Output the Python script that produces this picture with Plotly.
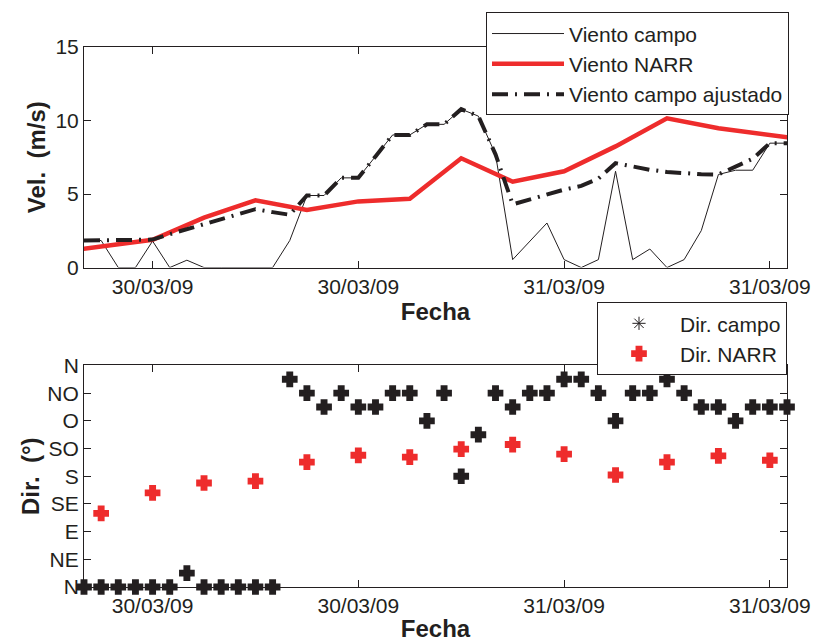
import plotly.graph_objects as go

# ---------------- data ----------------
hours_field = [
    "2009-03-30 02:00", "2009-03-30 03:00", "2009-03-30 04:00", "2009-03-30 05:00",
    "2009-03-30 06:00", "2009-03-30 07:00", "2009-03-30 08:00", "2009-03-30 09:00",
    "2009-03-30 10:00", "2009-03-30 11:00", "2009-03-30 12:00", "2009-03-30 13:00",
    "2009-03-30 14:00", "2009-03-30 15:00", "2009-03-30 16:00", "2009-03-30 17:00",
    "2009-03-30 18:00", "2009-03-30 19:00", "2009-03-30 20:00", "2009-03-30 21:00",
    "2009-03-30 22:00", "2009-03-30 23:00", "2009-03-31 00:00", "2009-03-31 01:00",
    "2009-03-31 02:00", "2009-03-31 03:00", "2009-03-31 04:00", "2009-03-31 05:00",
    "2009-03-31 06:00", "2009-03-31 07:00", "2009-03-31 08:00", "2009-03-31 09:00",
    "2009-03-31 10:00", "2009-03-31 11:00", "2009-03-31 12:00", "2009-03-31 13:00",
    "2009-03-31 14:00", "2009-03-31 15:00", "2009-03-31 16:00", "2009-03-31 17:00",
    "2009-03-31 18:00", "2009-03-31 19:00",
]
vel_campo = [
    1.84, 1.84, 0.0, 0.0, 1.80, 0.0, 0.50, 0.0, 0.0, 0.0, 0.0, 0.0,
    1.84, 4.90, 4.90, 6.10, 6.10, 7.56, 9.02, 9.02, 9.74, 9.74, 10.77, 10.30,
    7.70, 0.54, 1.80, 3.03, 0.54, 0.0, 0.54, 6.55, 0.54, 1.26, 0.0, 0.54,
    2.51, 6.33, 6.62, 6.62, 8.46, 8.46,
]
vel_ajustado = [
    1.84, 1.84, 1.84, 1.84, 1.90, 2.27, 2.62, 2.97, 3.32, 3.66, 3.97, 3.77,
    3.59, 4.90, 4.90, 6.10, 6.10, 7.56, 9.02, 9.02, 9.74, 9.74, 10.77, 10.30,
    7.70, 4.30, 4.65, 4.98, 5.30, 5.55, 6.05, 7.10, 6.85, 6.65, 6.50, 6.40,
    6.35, 6.33, 6.85, 7.40, 8.46, 8.46,
]
dir_campo = [
    0, 0, 0, 0, 0, 0, 22.5, 0, 0, 0, 0, 0,
    337.5, 315, 292.5, 315, 292.5, 292.5, 315, 315, 270, 315, 180, 247.5,
    315, 292.5, 315, 315, 337.5, 337.5, 315, 270, 315, 315, 337.5, 315,
    292.5, 292.5, 270, 292.5, 292.5, 292.5,
]

hours_narr_vel = [
    "2009-03-30 00:00", "2009-03-30 03:00", "2009-03-30 06:00", "2009-03-30 09:00",
    "2009-03-30 12:00", "2009-03-30 15:00", "2009-03-30 18:00", "2009-03-30 21:00",
    "2009-03-31 00:00", "2009-03-31 03:00", "2009-03-31 06:00", "2009-03-31 09:00",
    "2009-03-31 12:00", "2009-03-31 15:00", "2009-03-31 18:00", "2009-03-31 21:00",
]
vel_narr = [0.97, 1.43, 1.89, 3.40, 4.58, 3.92, 4.50, 4.68,
            7.43, 5.84, 6.55, 8.24, 10.15, 9.47, 8.98, 8.56]

hours_narr_dir = [
    "2009-03-30 03:00", "2009-03-30 06:00", "2009-03-30 09:00", "2009-03-30 12:00",
    "2009-03-30 15:00", "2009-03-30 18:00", "2009-03-30 21:00", "2009-03-31 00:00",
    "2009-03-31 03:00", "2009-03-31 06:00", "2009-03-31 09:00", "2009-03-31 12:00",
    "2009-03-31 15:00", "2009-03-31 18:00",
]
dir_narr = [119.6, 153, 169, 172, 203, 214, 211, 224, 231.5, 216, 182, 203, 213, 206]

x_range = ["2009-03-30 02:00", "2009-03-31 19:00"]
tick_times = ["2009-03-30 06:00", "2009-03-30 18:00", "2009-03-31 06:00", "2009-03-31 18:00"]
tick_labels = ["30/03/09", "30/03/09", "31/03/09", "31/03/09"]
vel_ticks = [0, 5, 10, 15]
dir_ticks = [0, 45, 90, 135, 180, 225, 270, 315, 360]
dir_labels = ["N", "NE", "E", "SE", "S", "SO", "O", "NO", "N"]

# ---------------- style ----------------
BLK = "#231f20"
RED = "#ee2c2c"
FONT = "Liberation Sans, Arial, sans-serif"

fig = go.Figure()

fig.add_trace(go.Scatter(x=hours_field, y=vel_campo, mode="lines", name="Viento campo",
                         line=dict(color=BLK, width=1), legend="legend",
                         xaxis="x", yaxis="y"))
fig.add_trace(go.Scatter(x=hours_narr_vel, y=vel_narr, mode="lines", name="Viento NARR",
                         line=dict(color=RED, width=4.5), legend="legend",
                         xaxis="x", yaxis="y"))
fig.add_trace(go.Scatter(x=hours_field, y=vel_ajustado, mode="lines",
                         name="Viento campo ajustado",
                         line=dict(color=BLK, width=4, dash="16px,7px,2px,7px"),
                         legend="legend", xaxis="x", yaxis="y"))

# direction
fig.add_trace(go.Scatter(x=hours_field, y=dir_campo, mode="markers", showlegend=False,
                         marker=dict(symbol="cross", size=11, color=BLK,
                                     line=dict(color=BLK, width=2.5)),
                         cliponaxis=False, xaxis="x2", yaxis="y2"))
fig.add_trace(go.Scatter(x=[None], y=[None], mode="markers", name="Dir. campo",
                         marker=dict(symbol="asterisk-open", size=11, color=BLK,
                                     line=dict(color=BLK, width=1)),
                         legend="legend2", xaxis="x2", yaxis="y2"))
fig.add_trace(go.Scatter(x=hours_narr_dir, y=dir_narr, mode="markers", name="Dir. NARR",
                         marker=dict(symbol="cross", size=11, color=RED,
                                     line=dict(color=RED, width=2.5)),
                         cliponaxis=False, legend="legend2", xaxis="x2", yaxis="y2"))

axis_common = dict(showline=True, linecolor=BLK, linewidth=1, mirror="ticks",
                   ticks="inside", ticklen=7, tickcolor=BLK, tickwidth=1,
                   showgrid=False, zeroline=False, automargin=False,
                   tickfont=dict(family=FONT, size=21, color=BLK))
title_font = dict(family=FONT, size=24, color=BLK)

top_dom = [(587 - 264) / 546, 1.0]
bot_dom = [0.0, (587 - 363) / 546]

fig.update_layout(
    width=814, height=642,
    margin=dict(l=84, r=27, t=41, b=55),
    paper_bgcolor="white", plot_bgcolor="white",
    font=dict(family=FONT, color=BLK),
    xaxis=dict(axis_common, type="date", range=x_range, domain=[0, 1], anchor="y",
               tickmode="array", tickvals=tick_times, ticktext=tick_labels,
               title=dict(text="<b>Fecha</b>", font=title_font, standoff=6)),
    yaxis=dict(axis_common, range=[0, 15], domain=top_dom, anchor="x",
               tickmode="array", tickvals=vel_ticks,
               title=dict(text="<b>Vel.  (m/s)</b>", font=title_font, standoff=3)),
    xaxis2=dict(axis_common, type="date", range=x_range, domain=[0, 1], anchor="y2",
                tickmode="array", tickvals=tick_times, ticktext=tick_labels,
                title=dict(text="<b>Fecha</b>", font=title_font, standoff=10)),
    yaxis2=dict(axis_common, range=[0, 360], domain=bot_dom, anchor="x2",
                tickmode="array", tickvals=dir_ticks, ticktext=dir_labels,
                title=dict(text="<b>Dir.  (°)</b>", font=title_font, standoff=0)),
    legend=dict(x=(486 - 84) / 703, y=(587 - 6) / 546, xanchor="left", yanchor="top",
                bgcolor="white", bordercolor=BLK, borderwidth=1,
                font=dict(family=FONT, size=21, color=BLK), itemwidth=72,
                tracegroupgap=0),
    legend2=dict(x=(597 - 84) / 703, y=(587 - 299) / 546, xanchor="left", yanchor="top",
                 bgcolor="white", bordercolor=BLK, borderwidth=1,
                 font=dict(family=FONT, size=21, color=BLK), itemwidth=72),
)

fig.write_html("out.html")
